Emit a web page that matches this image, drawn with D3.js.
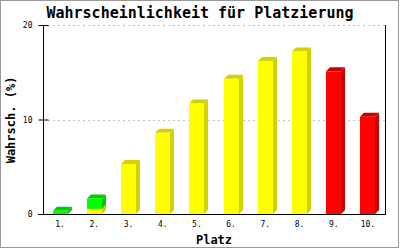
<!DOCTYPE html>
<html>
<head>
<meta charset="utf-8">
<script src="https://cdn.jsdelivr.net/npm/d3@7"></script>
<style>
html,body{margin:0;padding:0;background:#fff;}
svg{display:block;}
</style>
</head>
<body>
<svg id="chart" width="400" height="250"></svg>
<script>
const categories = ["1.","2.","3.","4.","5.","6.","7.","8.","9.","10."];
const yellowValues = [0, 0.55, 5.3, 8.6, 11.7, 14.3, 16.2, 17.2, 0, 0];
const redValues    = [0, 0, 0, 0, 0, 0, 0, 0, 15.1, 10.3];
const greenValues  = [0.35, 1.1, 0, 0, 0, 0, 0, 0, 0, 0];
const yTicks = [0, 10, 20];
const titleText = "Wahrscheinlichkeit für Platzierung";
const xTitle = "Platz";
const yTitle = "Wahrsch. (%)";

const seriesDefs = [
  {key:"yellow", values:yellowValues, front:"#ffff00", dark:"#d2d200"},
  {key:"red",    values:redValues,    front:"#ff0000", dark:"#cc0000"},
  {key:"green",  values:greenValues,  front:"#00ff00", dark:"#00cc00"}
];

const table = categories.map((c,i)=>{
  const row = {cat:c};
  seriesDefs.forEach(s=>row[s.key]=s.values[i]);
  return row;
});

const svg = d3.select("#chart");
const pLeft = 43, pRight = 385, pTop = 25, pBottom = 214;
const x = d3.scaleBand().domain(categories).range([pLeft, pRight]);
const y = d3.scaleLinear().domain([0, 20]).range([pBottom, pTop]);
const mono = "'DejaVu Sans Mono', 'Liberation Mono', monospace";

// border
svg.append("rect").attr("x",0.5).attr("y",0.5).attr("width",398).attr("height",247)
  .attr("fill","#fff").attr("stroke","#999").attr("stroke-width",1);
svg.append("line").attr("x1",398.5).attr("x2",398.5).attr("y1",0).attr("y2",248).attr("stroke","#999");
svg.append("line").attr("x1",0).attr("x2",399).attr("y1",247.5).attr("y2",247.5).attr("stroke","#999");

// grid
svg.append("g").selectAll("line").data(yTicks.filter(d=>d>0)).join("line")
  .attr("x1", pLeft+5).attr("x2", pRight)
  .attr("y1", d=>Math.round(y(d))+0.5).attr("y2", d=>Math.round(y(d))+0.5)
  .attr("stroke","#c0c0c0").attr("stroke-dasharray","2,3");

// bars
const stack = d3.stack().keys(seriesDefs.map(s=>s.key));
const stacked = stack(table);
const w = 15, dep = 4;
const gBars = svg.append("g");
stacked.forEach((layer, li)=>{
  const s = seriesDefs[li];
  layer.forEach((seg, i)=>{
    if (seg[1] - seg[0] <= 0) return;
    const cx = x(categories[i]) + x.bandwidth()/2;
    const x0 = Math.round(cx - w/2);
    const yb = y(seg[0]), yt = y(seg[1]);
    const g = gBars.append("g");
    g.append("path").attr("d",
      `M${x0+w},${yt} L${x0+w+dep},${yt-dep} L${x0+w+dep},${yb-dep} L${x0+w},${yb} Z`)
      .attr("fill", s.dark);
    g.append("path").attr("d",
      `M${x0},${yt} L${x0+dep},${yt-dep} L${x0+w+dep},${yt-dep} L${x0+w},${yt} Z`)
      .attr("fill", s.dark);
    g.append("rect").attr("x",x0).attr("y",yt).attr("width",w).attr("height",yb-yt)
      .attr("fill", s.front);
  });
});

// y axis
const yAxis = d3.axisLeft(y).tickValues(yTicks).tickSize(5).tickPadding(6);
const gy = svg.append("g").attr("transform",`translate(${pLeft+0.5},0)`).call(yAxis);
gy.select(".domain").remove();
gy.selectAll(".tick line").attr("x1",-5).attr("x2",5).attr("stroke","#000");
gy.selectAll(".tick text").attr("font-family",mono).attr("font-size",8).attr("fill","#000");
gy.append("line").attr("x1",0).attr("x2",0).attr("y1",pTop).attr("y2",pBottom+0.5).attr("stroke","#000");

// right line
svg.append("line").attr("x1",pRight+0.5).attr("x2",pRight+0.5).attr("y1",pTop).attr("y2",pBottom+0.5).attr("stroke","#000");

// x axis
const xAxis = d3.axisBottom(x).tickSize(0).tickPadding(7);
const gx = svg.append("g").attr("transform",`translate(0,${pBottom+0.5})`).call(xAxis);
gx.select(".domain").remove();
gx.append("line").attr("x1",pLeft-5).attr("x2",pRight+1).attr("y1",0).attr("y2",0).attr("stroke","#000");
gx.selectAll(".tick text").attr("font-family",mono).attr("font-size",8).attr("fill","#000");

// titles
svg.append("text").attr("x",200).attr("y",18).attr("text-anchor","middle")
  .attr("font-family",mono).attr("font-weight","bold").attr("font-size",15).text(titleText);
svg.append("text").attr("x",214).attr("y",244).attr("text-anchor","middle")
  .attr("font-family",mono).attr("font-weight","bold").attr("font-size",12).text(xTitle);
svg.append("text").attr("transform",`translate(15,120) rotate(-90)`).attr("text-anchor","middle")
  .attr("font-family",mono).attr("font-weight","bold").attr("font-size",12).text(yTitle);
</script>
</body>
</html>
